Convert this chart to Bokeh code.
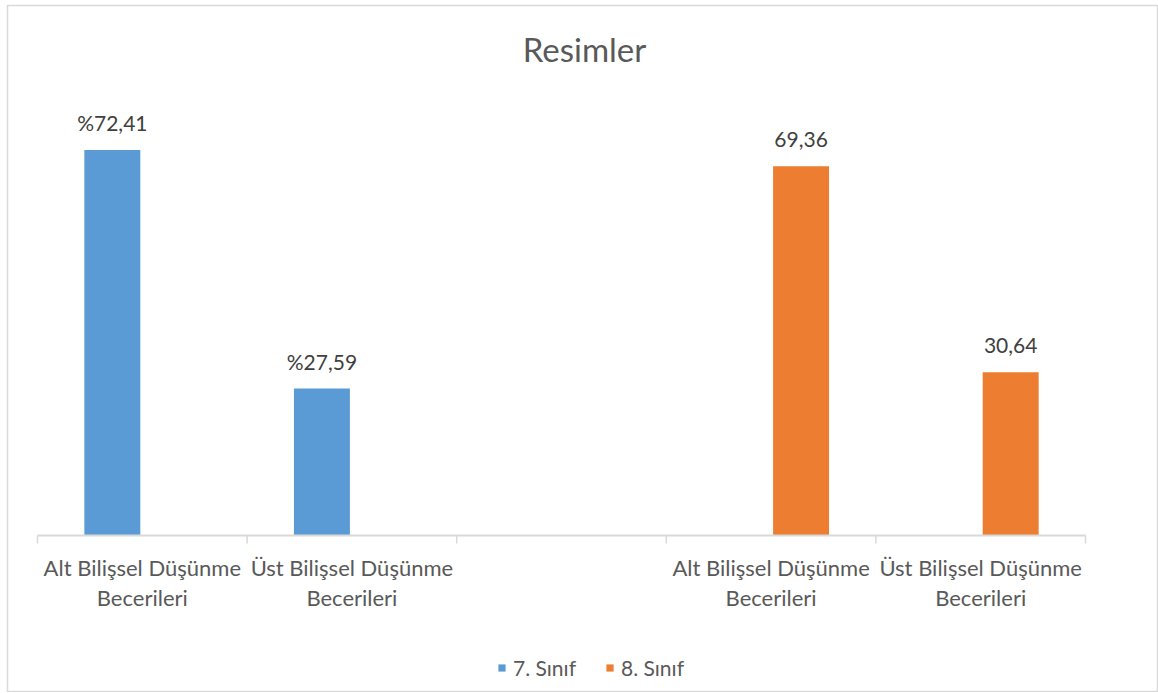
from bokeh.plotting import figure
from bokeh.models import ColumnDataSource, Range1d, Legend, LegendItem, Label
from bokeh.transform import dodge
from bokeh.core.properties import value
from bokeh.embed import file_html
from bokeh.resources import INLINE

title_text = "Resimler"
category_labels = ["Alt Bilişsel Düşünme\nBecerileri", "Üst Bilişsel Düşünme\nBecerileri", "",
                   "Alt Bilişsel Düşünme\nBecerileri", "Üst Bilişsel Düşünme\nBecerileri"]
series_names = ["7. Sınıf", "8. Sınıf"]
sinif7_values = [72.41, 27.59, None, None, None]
sinif8_values = [None, None, None, 69.36, 30.64]
sinif7_labels = ["%72,41", "%27,59", "", "", ""]
sinif8_labels = ["", "", "", "69,36", "30,64"]
colors = ["#5b9bd5", "#ed7d31"]
y_max = 80

FONT = "Lato"
TXT = "#595959"
AXIS = "#d9d9d9"
n = len(category_labels)
centers = [i + 0.5 for i in range(n)]
bounds = list(range(n + 1))

# layout (pixels)
W, H = 1158, 692
BL, BT = 7, 5                 # chart border left / top
PL, PR = 37, 1085             # plot area left / right
PT, PB = 109, 535             # plot area top / bottom
ppx = (PR - PL) / n
ppu = (PB - PT) / y_max


def make_source(vals, labels):
    xs, ys, ls = [], [], []
    for c, v, l in zip(centers, vals, labels):
        if v is not None:
            xs.append(c); ys.append(v); ls.append(l)
    return ColumnDataSource(dict(x=xs, y=ys, label=ls))


s7 = make_source(sinif7_values, sinif7_labels)
s8 = make_source(sinif8_values, sinif8_labels)

p = figure(width=W, height=H,
           x_range=Range1d(-(PL - BL) / ppx, n + (W - PR) / ppx),
           y_range=Range1d(-(H - PB) / ppu, y_max + (PT - BT) / ppu),
           output_backend="svg", toolbar_location=None, x_axis_location=None, y_axis_location=None,
           min_border_left=BL, min_border_right=0, min_border_top=BT, min_border_bottom=0)
p.xgrid.visible = False
p.ygrid.visible = False
p.outline_line_color = AXIS
p.outline_line_width = 1.5

bw = 0.267
off = 0.143
r7 = p.vbar(x=dodge("x", -off), top="y", width=bw, source=s7,
            fill_color=colors[0], line_color=None)
r8 = p.vbar(x=dodge("x", off), top="y", width=bw, source=s8,
            fill_color=colors[1], line_color=None)

for src, o in ((s7, -off), (s8, off)):
    p.text(x=dodge("x", o), y="y", text="label", source=src,
           text_align="center", text_baseline="alphabetic", y_offset=-27,
           text_font=value(FONT), text_font_size="21px", text_color="#404040")

# category axis: line, boundary ticks, labels
p.segment(x0=[bounds[0]], y0=[0], x1=[bounds[-1]], y1=[0], line_color=AXIS, line_width=2)
p.segment(x0=bounds, y0=[0] * len(bounds), x1=bounds, y1=[-8 / ppu] * len(bounds),
          line_color=AXIS, line_width=1.5)
p.text(x=centers, y=[0] * n, text=category_labels, text_align="center", text_baseline="top",
       y_offset=18, text_font=value(FONT), text_font_size="22px", text_color=TXT,
       text_line_height=1.12)

# title
p.add_layout(Label(x=(584 - PL) / ppx, y=y_max + (PT - 48) / ppu, text=title_text,
                   text_align="center", text_baseline="alphabetic", text_font=FONT,
                   text_font_size="33px", text_color=TXT))

legend = Legend(items=[LegendItem(label=series_names[0], renderers=[r7]),
                       LegendItem(label=series_names[1], renderers=[r8])],
                orientation="horizontal", location=(497 - BL, H - 680), glyph_width=9, glyph_height=9,
                label_text_font_size="21px", label_text_font=FONT, label_text_color=TXT,
                border_line_color=None, background_fill_alpha=0, spacing=29, margin=0,
                padding=0, label_standoff=7)
p.add_layout(legend, "center")

open("out.html", "w").write(file_html(p, INLINE))
